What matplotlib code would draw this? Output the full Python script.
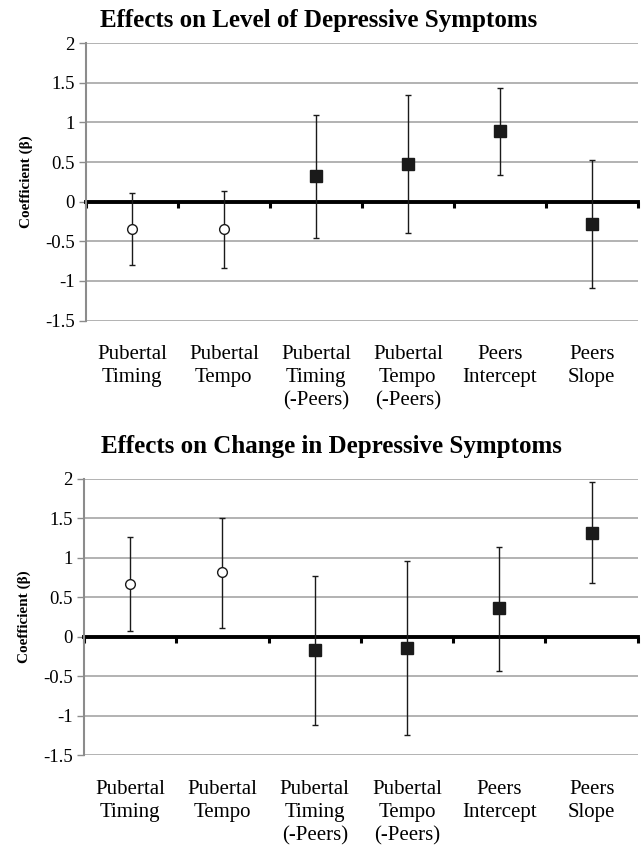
import numpy as np
import matplotlib.pyplot as plt

# coefficients and 95% CI
labels = ["Pubertal\nTiming", "Pubertal\nTempo", "Pubertal\nTiming\n(-Peers)",
          "Pubertal\nTempo\n(-Peers)", "Peers\nIntercept", "Peers\nSlope"]

level_coef = [-0.34, -0.35, 0.32, 0.47, 0.89, -0.28]
level_hi = [0.11, 0.13, 1.10, 1.34, 1.44, 0.52]
level_lo = [-0.80, -0.84, -0.46, -0.40, 0.34, -1.09]

change_coef = [0.675, 0.82, -0.165, -0.14, 0.36, 1.32]
change_hi = [1.26, 1.51, 0.77, 0.96, 1.14, 1.96]
change_lo = [0.08, 0.11, -1.11, -1.24, -0.43, 0.68]

open_marker = [True, True, False, False, False, False]

plt.rcParams['font.family'] = ['Liberation Serif', 'DejaVu Serif']

fig = plt.figure(figsize=(6.41, 8.46), dpi=100)
ax1 = fig.add_axes([0.134, 0.621, 0.861, 0.328])
ax2 = fig.add_axes([0.131, 0.107, 0.864, 0.327])


def draw(ax, coef, hi, lo):
    x = np.arange(1, len(coef) + 1)
    coef = np.array(coef)
    yerr = [coef - np.array(lo), np.array(hi) - coef]
    for i in range(len(coef)):
        ax.errorbar(x[i], coef[i], yerr=[[yerr[0][i]], [yerr[1][i]]], fmt='none',
                    ecolor='#1a1a1a', elinewidth=1, capsize=2.5, capthick=1, zorder=3)
        if open_marker[i]:
            ax.plot(x[i], coef[i], 'o', ms=7, mfc='white', mec='#1a1a1a', mew=1, zorder=4)
        else:
            ax.plot(x[i], coef[i], 's', ms=8, color='#1a1a1a', zorder=4)

    ax.set_xlim(0.5, len(coef) + 0.5)
    ax.set_ylim(-1.5, 2)
    ax.set_yticks(np.arange(-1.5, 2.01, 0.5))
    ax.set_yticklabels(['-1.5', '-1', '-0.5', '0', '0.5', '1', '1.5', '2'])
    ax.yaxis.grid(True, color='#a6a6a6', lw=1.2)
    ax.set_axisbelow(True)

    for s in ['top', 'right']:
        ax.spines[s].set_visible(False)
    ax.spines['left'].set_color('#8c8c8c')
    ax.spines['left'].set_linewidth(1.5)
    ax.spines['bottom'].set_position(('data', 0))
    ax.spines['bottom'].set_linewidth(2.8)
    ax.spines['bottom'].set_zorder(2)
    ax.set_xticks(np.arange(0.5, len(coef) + 1, 1))
    ax.set_xticklabels([])
    ax.tick_params(axis='x', direction='out', length=4.5, width=2.2, color='black')
    ax.tick_params(axis='y', direction='out', length=5, width=1, color='#8c8c8c',
                   labelsize=13.5, pad=3)

    for i, lab in enumerate(labels):
        ax.text(x[i], -1.81, lab, ha='center', va='top', fontsize=15,
                linespacing=1.28)

    ax.set_ylabel('Coefficient (β)', fontsize=11, fontweight='bold', labelpad=9)


draw(ax1, level_coef, level_hi, level_lo)
draw(ax2, change_coef, change_hi, change_lo)

fig.text(319 / 641, 1 - 21 / 846, "Effects on Level of Depressive Symptoms",
         ha='center', va='center', fontsize=18, fontweight='bold')
fig.text(331 / 641, 1 - 446 / 846, "Effects on Change in Depressive Symptoms",
         ha='center', va='center', fontsize=18, fontweight='bold')

fig.savefig("out.png", dpi=100)
